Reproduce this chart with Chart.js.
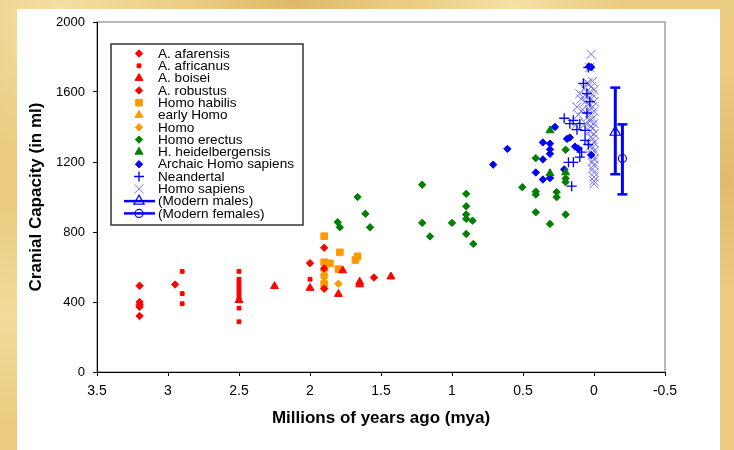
<!DOCTYPE html>
<html>
<head>
<meta charset="utf-8">
<title>Cranial capacity</title>
<script src="https://cdn.jsdelivr.net/npm/chart.js@4.4.1/dist/chart.umd.min.js"></script>
<style>
html, body { margin: 0; padding: 0; }
body {
    width: 734px; height: 450px; overflow: hidden; position: relative;
    background-color: #eacb80;
    background-image:
        radial-gradient(circle at 8% 3%, rgba(247,228,170,0.8), rgba(247,228,170,0) 18%),
        radial-gradient(circle at 40% 0%, rgba(214,172,88,0.6), rgba(214,172,88,0) 15%),
        radial-gradient(circle at 70% 2%, rgba(248,230,175,0.8), rgba(248,230,175,0) 16%),
        radial-gradient(circle at 99% 40%, rgba(220,180,96,0.7), rgba(220,180,96,0) 14%),
        radial-gradient(circle at 1% 70%, rgba(245,224,160,0.8), rgba(245,224,160,0) 14%);
}
#panel { position: absolute; left: 17px; top: 9px; width: 703px; height: 441px; background: #fff; }
#wrap { position: absolute; left: 0; top: 0; width: 734px; height: 450px; }
</style>
</head>
<body>
<div id="panel"></div>
<div id="wrap"><canvas id="chart"></canvas></div>
<script>
// tick labels
const xTicks = [3.5, 3, 2.5, 2, 1.5, 1, 0.5, 0, -0.5];
const yTicks = [0, 400, 800, 1200, 1600, 2000];

// [mya, cranial capacity in ml]
const afarensis = [[3.2, 493], [3.2, 400], [3.2, 385], [3.2, 372], [3.2, 320], [2.95, 500]];
const africanus = [[2.9, 575], [2.9, 448], [2.9, 390],
    [2.5, 575], [2.5, 530], [2.5, 510], [2.5, 490], [2.5, 470], [2.5, 450], [2.5, 430],
    [2.5, 415], [2.5, 365], [2.5, 287], [2.0, 530]];
const boisei = [[2.5, 410], [2.25, 490], [2.0, 480], [1.8, 445], [1.77, 580], [1.65, 500],
    [1.65, 515], [1.43, 545]];
const robustus = [[2.0, 622], [1.9, 710], [1.9, 592], [1.9, 476], [1.55, 540]];
const habilis = [[1.9, 776], [1.79, 684], [1.9, 627], [1.86, 621], [1.665, 661], [1.68, 640],
    [1.8, 588], [1.9, 503]];
const earlyHomo = [[1.9, 590], [1.9, 565]];
const homo = [[1.8, 505], [1.9, 540]];
const erectus = [[1.665, 1000], [1.805, 856], [1.79, 827], [1.61, 904], [1.577, 827],
    [1.21, 1070], [1.21, 852], [1.155, 775], [1.0, 852], [0.9, 1018], [0.9, 947], [0.9, 900],
    [0.9, 875], [0.855, 865], [0.9, 789], [0.85, 732], [0.505, 1056], [0.41, 1222], [0.41, 1031],
    [0.41, 1014], [0.41, 913], [0.31, 846], [0.263, 1028], [0.263, 999], [0.2, 900], [0.2, 1270],
    [0.2, 1085], [0.2, 1106]];
const heidelbergensis = [[0.31, 1380], [0.31, 1135], [0.2, 1140]];
const archaic = [[0.71, 1185], [0.61, 1275], [0.36, 1312], [0.31, 1305], [0.31, 1272],
    [0.31, 1247], [0.36, 1215], [0.41, 1140], [0.36, 1100], [0.31, 1108], [0.275, 1400],
    [0.21, 1158], [0.19, 1332], [0.17, 1340], [0.134, 1288], [0.11, 1276], [0.02, 1240],
    [0.035, 1745], [0.02, 1742]];
const neandertal = [[0.21, 1450], [0.17, 1419], [0.146, 1438], [0.1, 1419], [0.12, 1385],
    [0.1, 1228], [0.087, 1257], [0.063, 1324], [0.063, 1381], [0.075, 1649], [0.05, 1591],
    [0.18, 1198], [0.145, 1198], [0.157, 1062], [0.04, 1740], [0.03, 1545], [0.05, 1480],
    [0.04, 1300]];
const sapiens = [[0.02, 1815], [0.03, 1740], [0.01, 1660], [0.04, 1650], [0.02, 1630],
    [0.0, 1612], [0.03, 1600], [0.01, 1585], [0.05, 1575], [0.02, 1560], [0.0, 1545],
    [0.04, 1530], [0.01, 1515], [0.03, 1500], [0.0, 1490], [0.02, 1475], [0.04, 1460],
    [0.01, 1450], [0.03, 1435], [0.0, 1420], [0.02, 1405], [0.01, 1390], [0.03, 1375],
    [0.0, 1360], [0.02, 1345], [0.01, 1330], [0.0, 1310], [0.02, 1295], [0.01, 1280],
    [0.0, 1262], [0.01, 1240], [0.0, 1218], [0.01, 1200], [0.0, 1182], [0.01, 1160],
    [0.0, 1140], [0.0, 1115], [0.0, 1092], [0.0, 1075],
    [0.09, 1560], [0.1, 1590], [0.07, 1620], [0.12, 1515], [0.08, 1500], [0.06, 1545],
    [0.11, 1470], [0.13, 1410], [0.06, 1420], [0.05, 1650]];

// modern humans: mean with range
const modernLabels = ['(Modern males)', '(Modern females)'];
const modernMya = [-0.15, -0.2];
const modernMean = [1370, 1220];
const modernLow = [1130, 1015];
const modernHigh = [1625, 1415];

const RED = '#ff0000', ORANGE = '#ff9900', GREEN = '#008000', BLUE = '#0000ff', LIGHTBLUE = '#7070ff';
const FONT = '"Liberation Sans", Arial, sans-serif';

function pts(arr) {
    return arr.map(p => ({ x: p[0], y: p[1] }));
}

function series(label, arr, color, style, radius, width) {
    return {
        label: label,
        data: pts(arr),
        pointStyle: style,
        pointRadius: radius,
        pointHoverRadius: radius,
        backgroundColor: color,
        borderColor: color,
        borderWidth: width == null ? 1 : width
    };
}

const datasets = [
    series('A. afarensis', afarensis, RED, 'rectRot', 3.7),
    series('A. africanus', africanus, RED, 'rect', 2.7),
    series('A. boisei', boisei, RED, 'triangle', 4.6),
    series('A. robustus', robustus, RED, 'rectRot', 3.7),
    series('Homo habilis', habilis, ORANGE, 'rect', 4.7),
    series('early Homo', earlyHomo, ORANGE, 'triangle', 4.6),
    series('Homo', homo, ORANGE, 'rectRot', 3.7),
    series('Homo erectus', erectus, GREEN, 'rectRot', 3.7),
    series('H. heidelbergensis', heidelbergensis, GREEN, 'triangle', 4.6),
    series('Archaic Homo sapiens', archaic, BLUE, 'rectRot', 3.7),
    series('Neandertal', neandertal, BLUE, 'cross', 5, 1.3),
    series('Homo sapiens', sapiens, LIGHTBLUE, 'crossRot', 6.5, 1)
];

modernLabels.forEach((label, i) => {
    const m = series(label, [[modernMya[i], modernMean[i]]], BLUE, i === 0 ? 'triangle' : 'circle', i === 0 ? 6 : 4, 1.2);
    m.backgroundColor = 'rgba(0,0,0,0)';
    m.errorBar = true;
    datasets.push(m);
});
modernLabels.forEach((label, i) => {
    datasets.push({
        data: [{ x: modernMya[i], y: modernLow[i] }, { x: modernMya[i], y: modernHigh[i] }],
        showLine: true,
        borderColor: BLUE,
        borderWidth: 3,
        pointStyle: 'line',
        pointRadius: 5,
        pointHoverRadius: 5,
        pointBorderColor: BLUE,
        pointBorderWidth: 2.5
    });
});

function drawMarker(ctx, style, x, y, r, stroke, fill, lw) {
    ctx.beginPath();
    ctx.lineWidth = lw;
    ctx.strokeStyle = stroke;
    ctx.fillStyle = fill;
    if (style === 'rectRot') {
        ctx.moveTo(x - r, y); ctx.lineTo(x, y - r); ctx.lineTo(x + r, y); ctx.lineTo(x, y + r); ctx.closePath();
    } else if (style === 'rect') {
        const s = r * Math.SQRT1_2;
        ctx.rect(x - s, y - s, 2 * s, 2 * s);
    } else if (style === 'triangle') {
        ctx.moveTo(x, y - r); ctx.lineTo(x + r * 0.866, y + r * 0.5); ctx.lineTo(x - r * 0.866, y + r * 0.5); ctx.closePath();
    } else if (style === 'circle') {
        ctx.arc(x, y, r, 0, Math.PI * 2);
    } else if (style === 'cross') {
        ctx.moveTo(x, y - r); ctx.lineTo(x, y + r); ctx.moveTo(x - r, y); ctx.lineTo(x + r, y);
    } else if (style === 'crossRot') {
        const d = r * Math.SQRT1_2;
        ctx.moveTo(x - d, y - d); ctx.lineTo(x + d, y + d); ctx.moveTo(x + d, y - d); ctx.lineTo(x - d, y + d);
    }
    if (style !== 'cross' && style !== 'crossRot') ctx.fill();
    ctx.stroke();
}

// grey frame on top/right of the plot, drawn before the black axes
const plotFrame = {
    id: 'plotFrame',
    beforeDraw(chart) {
        const { ctx, chartArea } = chart;
        ctx.save();
        ctx.strokeStyle = '#a0a0a0';
        ctx.lineWidth = 1.5;
        ctx.strokeRect(chartArea.left, chartArea.top, chartArea.right - chartArea.left, chartArea.bottom - chartArea.top);
        ctx.restore();
    }
};

// boxed legend inside the plot, like the Excel one
const legendBox = {
    id: 'legendBox',
    afterDraw(chart) {
        const { ctx, chartArea } = chart;
        const left = chartArea.left + 14, top = chartArea.top + 22, w = 192, h = 181;
        ctx.save();
        ctx.fillStyle = '#fff';
        ctx.fillRect(left, top, w, h);
        ctx.strokeStyle = '#333';
        ctx.lineWidth = 1.5;
        ctx.strokeRect(left, top, w, h);
        ctx.font = '13.6px ' + FONT;
        ctx.textBaseline = 'middle';
        let row = 0;
        chart.data.datasets.forEach(ds => {
            if (!ds.label) return;
            const y = top + 9.5 + row * 12.3;
            const mx = left + 28;
            if (ds.errorBar) {
                ctx.beginPath();
                ctx.strokeStyle = BLUE;
                ctx.lineWidth = 2.5;
                ctx.moveTo(left + 13, y);
                ctx.lineTo(left + 44, y);
                ctx.stroke();
            }
            drawMarker(ctx, ds.pointStyle, mx, y, ds.pointRadius, ds.borderColor, ds.backgroundColor, ds.borderWidth);
            ctx.fillStyle = '#000';
            ctx.fillText(ds.label, left + 47, y + 0.5);
            row++;
        });
        ctx.restore();
    }
};

Chart.defaults.font.family = FONT;
Chart.defaults.color = '#000';

new Chart(document.getElementById('chart'), {
    type: 'scatter',
    data: { datasets: datasets },
    options: {
        responsive: true,
        maintainAspectRatio: false,
        animation: false,
        events: [],
        layout: { padding: { left: 0, top: 22, right: 69, bottom: 0 } },
        plugins: {
            legend: { display: false },
            tooltip: { enabled: false }
        },
        scales: {
            x: {
                type: 'linear',
                reverse: true,
                min: -0.5,
                max: 3.5,
                afterBuildTicks: s => { s.ticks = xTicks.map(v => ({ value: v })); },
                afterFit: s => { s.height = 78; },
                ticks: {
                    callback: v => String(v),
                    font: { size: 14 },
                    color: '#000',
                    padding: 7,
                    maxRotation: 0,
                    autoSkip: false
                },
                grid: { drawOnChartArea: false, drawTicks: true, tickLength: 4, color: '#000' },
                border: { color: '#000', width: 1 },
                title: {
                    display: true,
                    text: 'Millions of years ago (mya)',
                    font: { size: 17, weight: 'bold' },
                    color: '#000',
                    padding: { top: 0, bottom: 21 }
                }
            },
            y: {
                type: 'linear',
                min: 0,
                max: 2000,
                afterBuildTicks: s => { s.ticks = yTicks.map(v => ({ value: v })); },
                afterFit: s => { s.width = 97; },
                ticks: {
                    callback: v => String(v),
                    font: { size: 13 },
                    color: '#000',
                    padding: 8
                },
                grid: { drawOnChartArea: false, drawTicks: true, tickLength: 4, color: '#000' },
                border: { color: '#000', width: 1 },
                title: {
                    display: true,
                    text: 'Cranial Capacity (in ml)',
                    font: { size: 17, weight: 'bold' },
                    color: '#000',
                    padding: { top: 26, bottom: 0 }
                }
            }
        }
    },
    plugins: [plotFrame, legendBox]
});
</script>
</body>
</html>
